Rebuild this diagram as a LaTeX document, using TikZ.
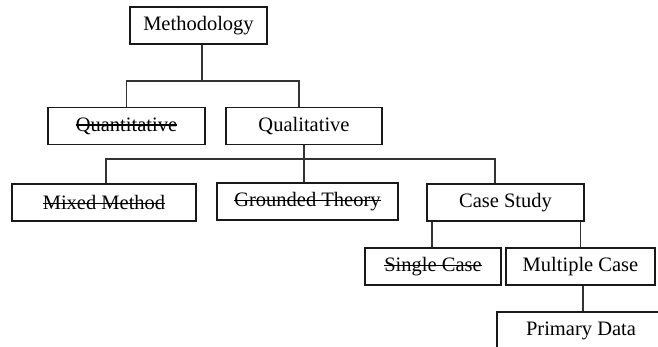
\documentclass[tikz,border=0pt]{standalone}
\usepackage{fontspec}
\setmainfont{Liberation Serif}
% struck-through text: a rule across the word at mid x-height
\newcommand\strk[1]{\setbox0\hbox{#1}\rlap{\rule[5.4pt]{\wd0}{1.3pt}}\box0}
\begin{document}
\begin{tikzpicture}[x=1pt,y=-1pt,
  box/.style={draw=black!90,line width=1.5pt,rectangle,inner sep=0pt,
    minimum height=37pt,font=\fontsize{20.5}{24}\selectfont},
  link/.style={draw=black!80,line width=1.3pt}]
\useasboundingbox (0,0) rectangle (658,347);
\fill[white] (0,0) rectangle (658,347);
\clip (0,0) rectangle (658,347);

% level 0
\node[box,minimum width=137pt] (meth) at (198.5,25.5) {Methodology};
% level 1
\node[box,minimum width=157pt] (quant) at (126.5,126) {\strk{Quantitative}};
\node[box,minimum width=156pt] (qual) at (304,126) {Qualitative};
% level 2
\node[box,minimum width=184pt] (mixed) at (104,202.5) {\strk{Mixed Method}};
\node[box,minimum width=181pt] (grounded) at (307.5,201.5) {\strk{Grounded Theory}};
\node[box,minimum width=157pt] (case) at (505.5,202.5) {Case Study};
% level 3
\node[box,minimum width=136pt] (single) at (433,266.5) {\strk{Single Case}};
\node[box,minimum width=149pt] (multiple) at (580.5,266.5) {Multiple Case};
% level 4
\node[box,minimum width=168pt] (primary) at (581,330.5) {Primary Data};

% Methodology -> Quantitative / Qualitative
\coordinate (bus1) at ([xshift=3.5pt]meth.south |- 0,81);
\draw[link] ([xshift=3.5pt]meth.south) -- (bus1);
\draw[link] (quant.north) |- (bus1);
\draw[link] ([xshift=-5pt]qual.north) |- (bus1);

% Qualitative -> Mixed / Grounded / Case Study
\coordinate (bus2) at (qual.south |- 0,159);
\draw[link] (qual.south) -- (bus2);
\draw[link] ([xshift=2pt]mixed.north) |- (bus2);
\draw[link] ([xshift=-3.5pt]grounded.north) |- (bus2);
\draw[link] ([xshift=-10.5pt]case.north) |- (bus2);

% Case Study -> Single / Multiple
\draw[link] ([xshift=-1pt]single.north) -- ([xshift=-1pt]single.north |- case.south);
\draw[link] (multiple.north) -- (multiple.north |- case.south);

% Multiple Case -> Primary Data
\draw[link] ([xshift=2.5pt]multiple.south) -- ([xshift=2.5pt]multiple.south |- primary.north);
\end{tikzpicture}
\end{document}
